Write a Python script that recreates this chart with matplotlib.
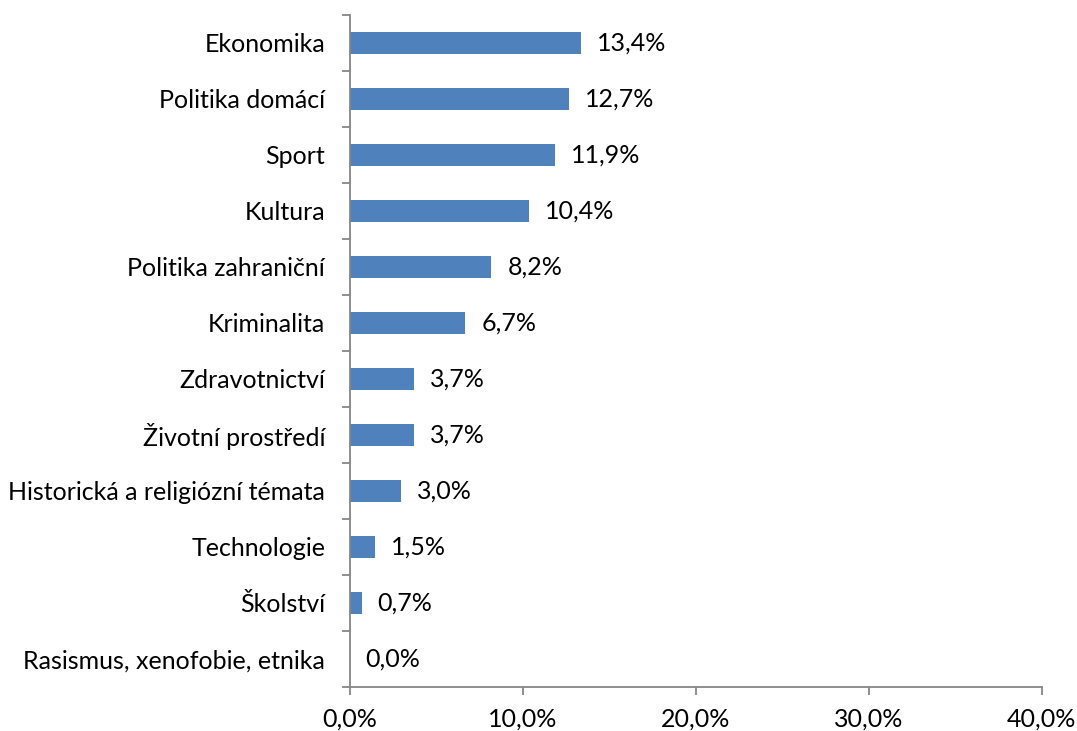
import matplotlib.pyplot as plt
import numpy as np

# topics, listed top to bottom
categories = ['Ekonomika', 'Politika domácí', 'Sport', 'Kultura', 'Politika zahraniční',
              'Kriminalita', 'Zdravotnictví', 'Životní prostředí',
              'Historická a religiózní témata', 'Technologie', 'Školství',
              'Rasismus, xenofobie, etnika']
shares = [13.4, 12.7, 11.9, 10.4, 8.2, 6.7, 3.7, 3.7, 3.0, 1.5, 0.7, 0.0]
x_ticks = [0, 10, 20, 30, 40]

plt.rcParams['font.family'] = ['Lato', 'DejaVu Sans']
axis_grey = '#868686'
fs = 18

fig = plt.figure(figsize=(10.77, 7.31), dpi=100)
ax = fig.add_axes([349.5 / 1077, 1 - 687 / 731, (1041.7 - 349.5) / 1077, (687 - 15) / 731])

n = len(categories)
y = np.arange(n)[::-1]
ax.barh(y, shares, height=0.39, color='#4F81BD')

for yi, v in zip(y, shares):
    ax.annotate(f'{v:.1f}%'.replace('.', ','), (v, yi), xytext=(11.5, 0),
                textcoords='offset points', va='center', ha='left', fontsize=fs)

ax.set_xlim(0, 40)
ax.set_ylim(-0.5, n - 0.5)
ax.set_xticks(x_ticks)
ax.set_xticklabels([f'{t:.1f}%'.replace('.', ',') for t in x_ticks], fontsize=fs)
ax.set_yticks(y)
ax.set_yticklabels(categories, fontsize=fs)
ax.set_yticks(np.arange(n + 1) - 0.5, minor=True)

for s in ['top', 'right']:
    ax.spines[s].set_visible(False)
for s in ['left', 'bottom']:
    ax.spines[s].set_color(axis_grey)
    ax.spines[s].set_linewidth(1.3)

ax.tick_params(axis='y', which='major', length=0, pad=17.5)
ax.tick_params(axis='y', which='minor', length=6, width=1.3, color=axis_grey, direction='out')
ax.tick_params(axis='x', length=6, width=1.3, color=axis_grey, pad=8.5)

fig.savefig('out.png', dpi=100)
